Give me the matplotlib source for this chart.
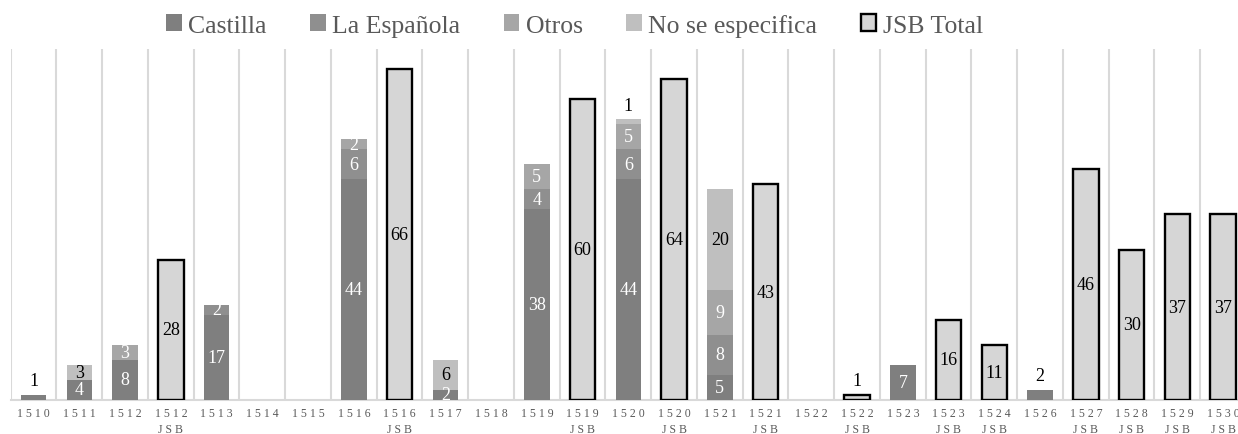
import matplotlib
matplotlib.use("Agg")
import matplotlib.pyplot as plt
import numpy as np
from matplotlib.patches import Patch

categories = ["1510", "1511", "1512", "1512 JSB", "1513", "1514", "1515", "1516", "1516 JSB",
              "1517", "1518", "1519", "1519 JSB", "1520", "1520 JSB", "1521", "1521 JSB",
              "1522", "1522 JSB", "1523", "1523 JSB", "1524 JSB", "1526", "1527 JSB",
              "1528 JSB", "1529 JSB", "1530 JSB"]
castilla      = [1, 4, 8, 0, 17, 0, 0, 44, 0, 2, 0, 38, 0, 44, 0, 5, 0, 0, 0, 7, 0, 0, 2, 0, 0, 0, 0]
la_espanola   = [0, 0, 0, 0, 2, 0, 0, 6, 0, 0, 0, 4, 0, 6, 0, 8, 0, 0, 0, 0, 0, 0, 0, 0, 0, 0, 0]
otros         = [0, 0, 3, 0, 0, 0, 0, 2, 0, 0, 0, 5, 0, 5, 0, 9, 0, 0, 0, 0, 0, 0, 0, 0, 0, 0, 0]
no_especifica = [0, 3, 0, 0, 0, 0, 0, 0, 0, 6, 0, 0, 0, 1, 0, 20, 0, 0, 0, 0, 0, 0, 0, 0, 0, 0, 0]
jsb_total     = [0, 0, 0, 28, 0, 0, 0, 0, 66, 0, 0, 0, 60, 0, 64, 0, 43, 0, 1, 0, 16, 11, 0, 46, 30, 37, 37]

series_names = ["Castilla", "La Española", "Otros", "No se especifica"]
series_colors = ["#7f7f7f", "#8f8f8f", "#a6a6a6", "#bfbfbf"]
label_colors = ["white", "white", "white", "black"]
jsb_color = "#d6d6d6"

SERIF = ["Liberation Serif", "DejaVu Serif"]
TXT = "#595959"
LBL = 13

fig = plt.figure(figsize=(12.38, 4.35), dpi=100)
ax = fig.add_axes([10.7 / 1238, 34 / 435, 1235.3 / 1238, 351 / 435])

x = np.arange(len(categories))
width = 0.56
bottom = np.zeros(len(categories))
all_series = [castilla, la_espanola, otros, no_especifica]
totals = np.sum(np.array(all_series), axis=0)

for vals, name, col, lcol in zip(all_series, series_names, series_colors, label_colors):
    vals = np.array(vals, dtype=float)
    nz = vals > 0
    ax.bar(x[nz], vals[nz], width, bottom=bottom[nz], color=col, linewidth=0, zorder=3)
    for i, v in enumerate(vals):
        if v <= 0:
            continue
        small = (v <= 2 and totals[i] <= 2) or (v == 1 and bottom[i] + v == totals[i])
        if small:
            ax.annotate(f"{int(v)}", (x[i], bottom[i] + v), xytext=(0, 4), textcoords="offset points",
                        ha="center", va="bottom", fontsize=LBL, family=SERIF, color="black", zorder=5)
        else:
            ax.text(x[i], bottom[i] + v / 2, f"{int(v)}", ha="center", va="center",
                    fontsize=LBL, family=SERIF, color=lcol, zorder=5)
    bottom += vals

jsb = np.array(jsb_total, dtype=float)
nz = jsb > 0
ax.bar(x[nz], jsb[nz], width, color=jsb_color, edgecolor="black", linewidth=1.7, zorder=3)
for i, v in enumerate(jsb):
    if v <= 0:
        continue
    if v <= 2:
        ax.annotate(f"{int(v)}", (x[i], v), xytext=(0, 4), textcoords="offset points",
                    ha="center", va="bottom", fontsize=LBL, family=SERIF, color="black", zorder=5)
    else:
        ax.text(x[i], v / 2, f"{int(v)}", ha="center", va="center",
                fontsize=LBL, family=SERIF, color="black", zorder=5)

ax.set_xlim(-0.5, len(categories) - 0.5)
ax.set_ylim(0, 70)
ax.set_yticks([])

def spaced(lbl):
    parts = lbl.split(" ")
    return "\n".join(" ".join(list(p)) for p in parts)

ax.set_xticks(x)
ax.set_xticklabels([spaced(c) for c in categories], fontsize=8.5, family=SERIF, color=TXT,
                   linespacing=1.4, va="top")
ax.tick_params(axis="x", which="major", length=0, pad=5)
ax.set_xticks(np.arange(-0.5, len(categories), 1.0), minor=True)
ax.tick_params(axis="x", which="minor", length=0)
ax.grid(axis="x", which="minor", color="#d9d9d9", linewidth=1.5, zorder=0)
ax.grid(axis="x", which="major", visible=False)
for s in ["top", "left", "right"]:
    ax.spines[s].set_visible(False)
ax.spines["bottom"].set_color("#d9d9d9")
ax.spines["bottom"].set_linewidth(1.5)
ax.set_facecolor("none")

handles = [Patch(facecolor=c, edgecolor="none") for c in series_colors]
handles.append(Patch(facecolor=jsb_color, edgecolor="black", linewidth=1.7))
names = series_names + ["JSB Total"]
leg = fig.legend(handles, names, loc="center", bbox_to_anchor=(0.464, 0.94), ncol=5,
                 frameon=False, prop={"family": SERIF, "size": 18.5},
                 handlelength=0.6, handleheight=0.6, handletextpad=0.25, columnspacing=1.7,
                 borderaxespad=0)
for t in leg.get_texts():
    t.set_color(TXT)

fig.savefig("out.png", dpi=100)
